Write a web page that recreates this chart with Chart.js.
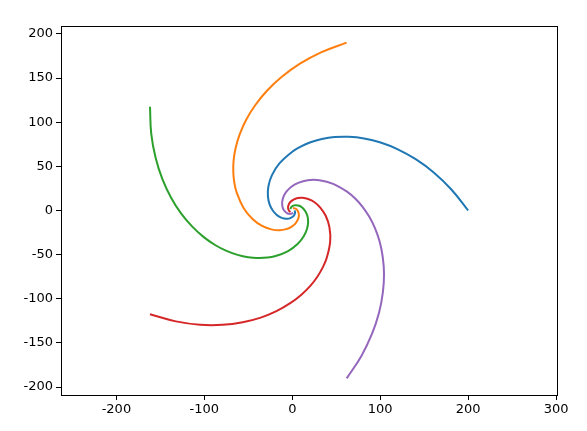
<!DOCTYPE html>
<html>
<head>
<meta charset="utf-8">
<script src="https://cdn.jsdelivr.net/npm/chart.js@4/dist/chart.umd.min.js"></script>
<style>
  html, body { margin: 0; padding: 0; background: #fff; }
  #wrap { width: 587px; height: 431px; }
</style>
</head>
<body>
<div id="wrap"><canvas id="spiralChart" width="587" height="431"></canvas></div>
<script>
const blueX = [200, 180.9, 160.8, 140.3, 120.0, 100.4, 81.6, 64.1, 48.1, 33.6, 20.7, 9.5, 0, -14.4, -23.1, -27.2, -27.7, -25.8, -22.2, -17.9, -13.3, -9.1, -5.4, -2.3, 0, 1.6, 2.6, 3.0, 3.1, 2.9, 2.5];
const blueY = [0, 23.8, 43.1, 58.1, 69.3, 77.0, 81.6, 83.5, 83.2, 81.0, 77.3, 72.4, 66.6, 53.6, 40.0, 27.2, 16.0, 6.9, 0, -4.8, -7.7, -9.1, -9.3, -8.6, -7.4, -6.0, -4.4, -3.0, -1.8, -0.8, 0];

const orangeX = [61.8, 33.3, 8.7, -11.9, -28.8, -42.2, -52.4, -59.6, -64.3, -66.7, -67.1, -65.9, -63.3, -55.4, -45.2, -34.3, -23.8, -14.5, -6.9, -1.0, 3.2, 5.8, 7.2, 7.5, 7.0, 6.2, 5.0, 3.8, 2.7, 1.6, 0.8];
const orangeY = [190.2, 179.4, 166.3, 151.4, 135.6, 119.2, 102.8, 86.8, 71.4, 57.0, 43.6, 31.4, 20.6, 2.9, -9.6, -17.5, -21.4, -22.4, -21.1, -18.5, -15.1, -11.4, -8.0, -4.8, -2.3, -0.3, 1.1, 2.0, 2.4, 2.5, 2.4];

const greenX = [-161.8, -160.4, -155.4, -147.7, -137.8, -126.5, -114.0, -101.0, -87.8, -74.8, -62.2, -50.3, -39.1, -19.9, -4.8, 6.0, 13.0, 16.8, 18.0, 17.3, 15.3, 12.6, 9.8, 6.9, 4.3, 2.2, 0.5, -0.7, -1.5, -1.9, -2.0];
const greenY = [117.6, 87.1, 59.7, 35.5, 14.5, -3.3, -18.0, -29.9, -39.1, -45.8, -50.3, -53.0, -53.9, -51.8, -45.9, -38.0, -29.2, -20.7, -13.0, -6.6, -1.6, 2.0, 4.4, 5.6, 6.0, 5.8, 5.1, 4.2, 3.3, 2.3, 1.5];

const redX = [-161.8, -132.4, -104.8, -79.4, -56.4, -35.9, -18.0, -2.8, 10.0, 20.5, 28.7, 34.8, 39.1, 43.1, 42.2, 38.0, 31.8, 24.9, 18.0, 11.6, 6.3, 2.0, -1.1, -3.2, -4.3, -4.8, -4.7, -4.2, -3.6, -2.8, -2.0];
const redY = [-117.6, -125.6, -129.4, -129.5, -126.6, -121.3, -114.0, -105.3, -95.6, -85.3, -74.7, -64.2, -53.9, -34.9, -18.8, -6.0, 3.3, 9.6, 13.0, 14.4, 14.1, 12.6, 10.6, 8.3, 6.0, 3.9, 2.1, 0.7, -0.4, -1.1, -1.5];

const purpleX = [61.8, 78.6, 90.7, 98.7, 103.0, 104.3, 102.8, 99.3, 94.0, 87.4, 79.9, 71.8, 63.3, 46.5, 30.9, 17.5, 6.7, -1.4, -6.9, -10.1, -11.4, -11.4, -10.5, -8.9, -7.0, -5.2, -3.4, -2.0, -0.7, 0.2, 0.8];
const purpleY = [-190.2, -164.7, -139.6, -115.5, -92.7, -71.7, -52.4, -35.2, -20.0, -6.9, 4.2, 13.3, 20.6, 30.2, 34.3, 34.3, 31.3, 26.7, 21.1, 15.5, 10.3, 5.8, 2.2, -0.5, -2.3, -3.4, -3.8, -3.8, -3.5, -3.0, -2.4];

const xTicks = [-200, -100, 0, 100, 200, 300];
const yTicks = [-200, -150, -100, -50, 0, 50, 100, 150, 200];

const toPoints = (xs, ys) => xs.map((x, i) => ({ x: x, y: ys[i] }));

function arm(xs, ys, color) {
    return {
        data: toPoints(xs, ys),
        showLine: true,
        borderColor: color,
        borderWidth: 2,
        pointRadius: 0,
        tension: 0.4,
        fill: false
    };
}

// matplotlib-style full box around the axes
const frameBox = {
    id: 'frameBox',
    afterDraw(chart) {
        const { ctx, chartArea: a } = chart;
        ctx.save();
        ctx.strokeStyle = '#000';
        ctx.lineWidth = 1;
        ctx.strokeRect(Math.round(a.left) + 0.5, Math.round(a.top) + 0.5,
            Math.round(a.right - a.left), Math.round(a.bottom - a.top));
        ctx.restore();
    }
};

const tickFont = { family: "'DejaVu Sans', sans-serif", size: 13 };

new Chart(document.getElementById('spiralChart'), {
    type: 'scatter',
    data: {
        datasets: [
            arm(blueX, blueY, '#1f77b4'),
            arm(orangeX, orangeY, '#ff7f0e'),
            arm(greenX, greenY, '#2ca02c'),
            arm(redX, redY, '#d62728'),
            arm(purpleX, purpleY, '#9467bd')
        ]
    },
    options: {
        responsive: false,
        animation: false,
        devicePixelRatio: 1,
        layout: { padding: { left: 0, top: 26, right: 30, bottom: 0 } },
        plugins: {
            legend: { display: false },
            tooltip: { enabled: false }
        },
        scales: {
            x: {
                type: 'linear',
                min: -263,
                max: 301,
                afterBuildTicks: (s) => { s.ticks = xTicks.map(v => ({ value: v })); },
                afterFit: (s) => { s.height = 36; },
                grid: { drawOnChartArea: false, drawTicks: true, tickLength: 5, color: '#000' },
                border: { display: false },
                ticks: { color: '#000', font: tickFont, padding: 2, maxRotation: 0 }
            },
            y: {
                type: 'linear',
                min: -209,
                max: 209,
                afterBuildTicks: (s) => { s.ticks = yTicks.map(v => ({ value: v })); },
                afterFit: (s) => { s.width = 61; },
                grid: { drawOnChartArea: false, drawTicks: true, tickLength: 5, color: '#000' },
                border: { display: false },
                ticks: { color: '#000', font: tickFont, padding: 3 }
            }
        }
    },
    plugins: [frameBox]
});
</script>
</body>
</html>
